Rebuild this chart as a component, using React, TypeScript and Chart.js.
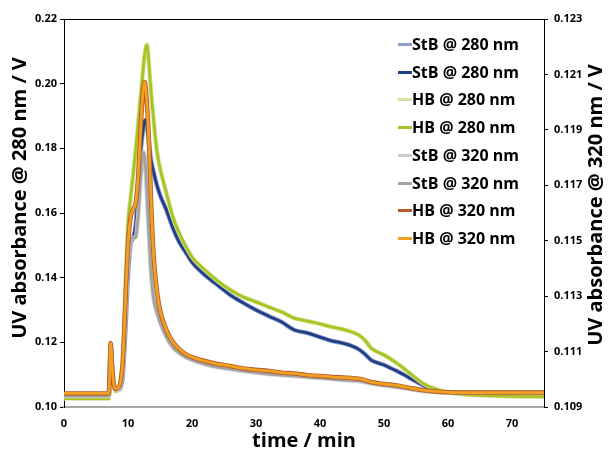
import React, { useEffect, useRef } from "react";
import { Chart, registerables } from "chart.js";
Chart.register(...registerables);

const FONT = "'Open Sans', 'DejaVu Sans', sans-serif";

const times = [0, 2, 4, 6, 7, 7.15, 7.3, 7.5, 7.8, 8.1, 8.4, 8.8, 9.2, 9.6, 10, 10.4, 10.8, 11.2, 11.6, 12, 12.4, 12.6, 12.8, 13, 13.2, 13.6, 14, 14.5, 15, 16, 17, 18, 19, 20, 22, 24, 26, 28, 30, 32, 34, 36, 38, 40, 42, 44, 46, 47, 48, 50, 52, 54, 56, 58, 60, 62, 65, 70, 75];

const stb280 = [0.1034, 0.1034, 0.1034, 0.1034, 0.1034, 0.1108, 0.1192, 0.1124, 0.1065, 0.1053, 0.1053, 0.1059, 0.1099, 0.1238, 0.1408, 0.1501, 0.1523, 0.1563, 0.1671, 0.1795, 0.1863, 0.1885, 0.1888, 0.1866, 0.1832, 0.1764, 0.1727, 0.1687, 0.1656, 0.1609, 0.1554, 0.1510, 0.1479, 0.1448, 0.1408, 0.1377, 0.1346, 0.1322, 0.1300, 0.1281, 0.1263, 0.1238, 0.1229, 0.1216, 0.1204, 0.1195, 0.1179, 0.1164, 0.1145, 0.1130, 0.1111, 0.1090, 0.1068, 0.1053, 0.1045, 0.1043, 0.1043, 0.1043, 0.1043];

const hb280 = [0.1026, 0.1026, 0.1026, 0.1026, 0.1026, 0.1102, 0.1186, 0.1118, 0.1062, 0.1049, 0.1053, 0.1071, 0.1145, 0.1362, 0.1563, 0.1646, 0.1718, 0.1795, 0.1881, 0.1965, 0.2052, 0.2089, 0.2113, 0.2120, 0.2079, 0.1974, 0.1888, 0.1795, 0.1739, 0.1662, 0.1588, 0.1538, 0.1498, 0.1464, 0.1424, 0.1390, 0.1362, 0.1340, 0.1325, 0.1309, 0.1294, 0.1275, 0.1266, 0.1257, 0.1247, 0.1238, 0.1223, 0.1207, 0.1182, 0.1161, 0.1136, 0.1105, 0.1074, 0.1056, 0.1046, 0.1040, 0.1036, 0.1033, 0.1032];

const stb320 = [0.1094, 0.1094, 0.1094, 0.1094, 0.1094, 0.11026, 0.11124, 0.11044, 0.10976, 0.10961, 0.10965, 0.10976, 0.11041, 0.11232, 0.11423, 0.11495, 0.1151, 0.11513, 0.11593, 0.11737, 0.1182, 0.11802, 0.11748, 0.11654, 0.11557, 0.11387, 0.11293, 0.11243, 0.11207, 0.11153, 0.11116, 0.11095, 0.1108, 0.1107, 0.11055, 0.11044, 0.11037, 0.1103, 0.11024, 0.11019, 0.11015, 0.11012, 0.11008, 0.11005, 0.11001, 0.10997, 0.10994, 0.1099, 0.10985, 0.10978, 0.10972, 0.10965, 0.10958, 0.10954, 0.10952, 0.10951, 0.10951, 0.10951, 0.10951];

const hb320 = [0.10949, 0.10949, 0.10949, 0.10949, 0.10949, 0.11034, 0.11131, 0.11052, 0.10979, 0.10965, 0.10969, 0.10987, 0.1107, 0.11286, 0.11485, 0.11582, 0.11614, 0.11636, 0.11737, 0.11918, 0.12051, 0.12073, 0.12044, 0.11979, 0.11899, 0.11647, 0.11448, 0.11322, 0.1125, 0.11178, 0.11135, 0.11109, 0.11091, 0.1108, 0.11066, 0.11055, 0.11048, 0.11039, 0.11034, 0.1103, 0.11024, 0.11021, 0.11015, 0.11012, 0.11008, 0.11006, 0.11002, 0.10997, 0.1099, 0.10983, 0.10978, 0.10969, 0.10961, 0.10956, 0.10953, 0.10952, 0.10952, 0.10952, 0.10952];

const xTicks = [0, 10, 20, 30, 40, 50, 60, 70];
const leftTicks = [0.10, 0.12, 0.14, 0.16, 0.18, 0.20, 0.22];
const rightTicks = [0.109, 0.111, 0.113, 0.115, 0.117, 0.119, 0.121, 0.123];

const seriesLabels = ["StB @ 280 nm", "StB @ 280 nm", "HB @ 280 nm", "HB @ 280 nm", "StB @ 320 nm", "StB @ 320 nm", "HB @ 320 nm", "HB @ 320 nm"];
const seriesColors = ["#8e9fcb", "#1f3e86", "#d6e3a0", "#a9c423", "#cdcdcd", "#a3a3a3", "#b65a28", "#f0a023"];
const seriesData = [stb280, stb280, hb280, hb280, stb320, stb320, hb320, hb320];
const seriesAxis = ["y", "y", "y", "y", "y1", "y1", "y1", "y1"];
const seriesWidth = [4.5, 2.8, 4.5, 2.8, 4.5, 2.8, 4.5, 2.8];
const seriesOrder = [7, 6, 5, 4, 3, 2, 1, 0];

const X_TITLE = "time / min";
const Y_TITLE = "UV absorbance @ 280 nm / V";
const Y1_TITLE = "UV absorbance @ 320 nm / V";

const framePlugin = {
  id: "frameAndTitles",
  afterDraw(chart: any) {
    const { ctx, chartArea } = chart;
    const midY = (chartArea.top + chartArea.bottom) / 2;
    ctx.save();
    ctx.strokeStyle = "#000";
    ctx.lineWidth = 1;
    ctx.beginPath();
    ctx.moveTo(chartArea.left, chartArea.top + 0.5);
    ctx.lineTo(chartArea.right, chartArea.top + 0.5);
    ctx.stroke();
    ctx.font = `bold 20px ${FONT}`;
    ctx.fillStyle = "#000";
    ctx.textAlign = "center";
    ctx.textBaseline = "middle";
    ctx.save();
    ctx.translate(20, midY - 15);
    ctx.rotate(-Math.PI / 2);
    ctx.fillText(Y_TITLE, 0, 0);
    ctx.restore();
    ctx.save();
    ctx.translate(chart.width - 12, midY - 8);
    ctx.rotate(-Math.PI / 2);
    ctx.fillText(Y1_TITLE, 0, 0);
    ctx.restore();
    ctx.restore();
  },
};

export default function App() {
  const ref = useRef<HTMLCanvasElement>(null);
  useEffect(() => {
    if (!ref.current) return;
    const datasets = seriesLabels.map((label, k) => ({
      label,
      data: times.map((t, i) => ({ x: t, y: seriesData[k][i] })),
      borderColor: seriesColors[k],
      backgroundColor: seriesColors[k],
      borderWidth: seriesWidth[k],
      pointRadius: 0,
      cubicInterpolationMode: "monotone" as const,
      yAxisID: seriesAxis[k],
      order: seriesOrder[k],
    }));
    const tickFont = { family: FONT, size: 11, weight: "bold" as const };
    const chart = new Chart(ref.current, {
      type: "line",
      data: { datasets },
      plugins: [framePlugin],
      options: {
        animation: false,
        responsive: false,
        layout: { padding: { top: 19, left: 0, right: 0, bottom: 0 } },
        plugins: { legend: { display: false }, tooltip: { enabled: false } },
        scales: {
          x: {
            type: "linear",
            min: 0,
            max: 75,
            afterBuildTicks: (s: any) => { s.ticks = xTicks.map((v) => ({ value: v })); },
            afterFit: (s: any) => { s.height = 46; },
            grid: { drawOnChartArea: false, drawTicks: false },
            border: { color: "#a6a6a6", width: 2 },
            ticks: { color: "#000", font: tickFont, padding: 10, maxRotation: 0 },
            title: { display: true, text: X_TITLE, color: "#000", font: { family: FONT, size: 20, weight: "bold" }, padding: { top: 0, bottom: 0 } },
          },
          y: {
            type: "linear",
            position: "left",
            min: 0.10,
            max: 0.22,
            afterBuildTicks: (s: any) => { s.ticks = leftTicks.map((v) => ({ value: v })); },
            afterFit: (s: any) => { s.width = 64; },
            grid: { drawOnChartArea: false, drawTicks: true, tickLength: 4, color: "#000" },
            border: { color: "#000", width: 1 },
            ticks: { color: "#000", font: tickFont, padding: 3, callback: (v: any) => Number(v).toFixed(2) },
          },
          y1: {
            type: "linear",
            position: "right",
            min: 0.109,
            max: 0.123,
            afterBuildTicks: (s: any) => { s.ticks = rightTicks.map((v) => ({ value: v })); },
            afterFit: (s: any) => { s.width = 64; },
            grid: { drawOnChartArea: false, drawTicks: true, tickLength: 4, color: "#000" },
            border: { color: "#000", width: 1 },
            ticks: { color: "#000", font: tickFont, padding: 6, callback: (v: any) => Number(v).toFixed(3) },
          },
        },
      },
    });
    return () => chart.destroy();
  }, []);

  return (
    <div style={{ position: "absolute", left: 0, top: 0, width: 608, height: 453, background: "#fff" }}>
      <canvas ref={ref} width={608} height={453} style={{ display: "block" }} />
      {seriesLabels.map((label, k) => (
        <div
          key={k}
          style={{
            position: "absolute",
            left: 398,
            top: 30 + Math.round(k * 27.7),
            height: 28,
            display: "flex",
            alignItems: "center",
            whiteSpace: "nowrap",
            fontFamily: FONT,
            fontWeight: "bold",
            fontSize: 16,
            color: "#000",
          }}
        >
          <span style={{ display: "inline-block", width: 14, height: 3, background: seriesColors[k] }} />
          <span>{label}</span>
        </div>
      ))}
    </div>
  );
}
